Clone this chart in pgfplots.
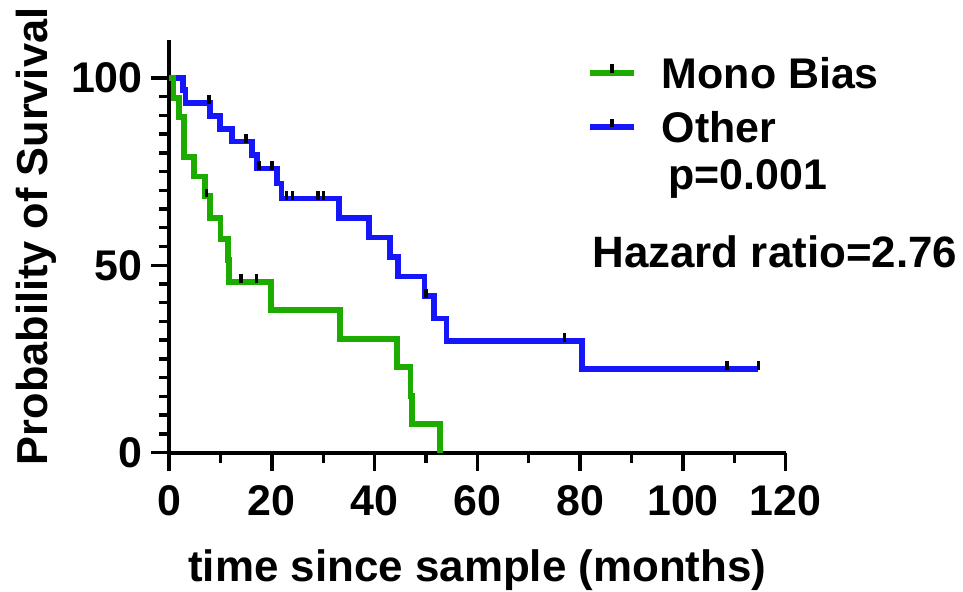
\documentclass[border=0pt]{standalone}
\usepackage{fontspec}
\setmainfont{Liberation Sans}
\usepackage{pgfplots}
\pgfplotsset{compat=1.18}

\definecolor{kmgreen}{RGB}{28,172,0}
\definecolor{kmblue}{RGB}{22,22,250}

\newcommand{\chartfont}{\fontsize{21.5}{25}\selectfont\bfseries}
\newcommand{\labelfont}{\fontsize{22}{26}\selectfont\bfseries}

\begin{document}
\begin{tikzpicture}
\begin{axis}[
  scale only axis,
  width=309pt, height=206.5pt,
  xmin=0, xmax=120, ymin=0, ymax=110,
  axis x line*=bottom, axis y line*=left,
  axis line style={line width=2pt, -},
  xtick={0,20,...,120}, ytick={0,50,100},
  minor x tick num=1, minor y tick num=9,
  tick align=outside,
  major tick length=9pt, minor tick length=5pt,
  every tick/.style={black, line width=1.7pt},
  tick label style={font=\chartfont},
  xticklabel style={inner sep=3pt, yshift=-4.5pt},
  yticklabel style={inner sep=4pt},
  /pgf/number format/assume math mode=true,
  label style={font=\labelfont},
  xlabel={time since sample (months)},
  ylabel={Probability of Survival},
  xlabel style={at={(axis cs:60,-34.3)}, anchor=base},
  ylabel style={font=\fontsize{21.7}{26}\selectfont\bfseries,
    at={(axis cs:-23.7,57.7)}, anchor=base},
  clip=false,
  legend style={draw=none, fill=none, font=\chartfont,
    at={(axis cs:81.3,105.6)}, anchor=north west, inner sep=0pt,
    column sep=12.5pt, row sep=11.7pt,
    nodes={inner sep=0pt, text height=15.5pt, text depth=0pt}},
  legend cell align=left,
  legend image code/.code={
    \draw[#1, line width=2.9pt] (0pt,0pt) -- (22pt,0pt);
    \draw[black, line width=1.7pt] (11pt,0pt) -- (11pt,4.2pt);
  },
]
% survival curves (Kaplan-Meier steps)
\addplot[kmblue, line width=2.9pt, const plot, forget plot] coordinates {
  (0,100) (2.66,96.7) (3.2,93.3) (8,89.9) (9.9,86.4) (12.2,83.0)
  (16.1,79.4) (17.1,75.8) (21,71.8) (21.9,67.8) (33.1,62.6) (38.9,57.4)
  (43,52.2) (44.5,47.0) (49.7,41.7) (51.6,35.8) (54,29.8) (80.3,22.4)
  (114.7,22.4)
};
\addplot[kmgreen, line width=2.9pt, const plot, forget plot] coordinates {
  (0,100) (0.85,94.7) (1.95,89.5) (2.9,78.9) (4.9,73.7) (7,68.4)
  (8,62.7) (10,57.0) (11.5,51.3) (11.7,45.6) (19.8,38.0) (33.3,30.4)
  (44.3,22.8) (47.0,15.2) (47.3,7.6) (52.7,0)
};
% censored observations
\addplot[only marks, mark=|, mark size=2.2pt, forget plot,
  mark options={black, line width=1.7pt, yshift=1.6pt}] coordinates {
  (7.8,93.3) (15,83.0) (17.5,75.8) (20,75.8) (22.9,67.8) (24,67.8)
  (29,67.8) (30,67.8) (50,41.7) (77,29.8) (108.6,22.4) (114.7,22.4)
};
\addplot[only marks, mark=|, mark size=2.2pt, forget plot,
  mark options={black, line width=1.7pt, yshift=1.6pt}] coordinates {
  (7.3,68.4) (14,45.6) (17,45.6)
};
\addlegendimage{kmgreen}
\addlegendentry{Mono Bias}
\addlegendimage{kmblue}
\addlegendentry{Other}

\node[font=\chartfont, anchor=base west, inner sep=0pt] at (axis cs:97.1,70.1) {p=0.001};
\node[font=\labelfont, anchor=base west, inner sep=0pt] at (axis cs:82.3,49.3) {Hazard ratio=2.76};

\coordinate (bbSW) at (axis cs:-32.9,-37.1);
\coordinate (bbNE) at (axis cs:154.5,120.8);
\end{axis}
\pgfresetboundingbox
\useasboundingbox (bbSW) rectangle (bbNE);
\end{tikzpicture}
\end{document}
